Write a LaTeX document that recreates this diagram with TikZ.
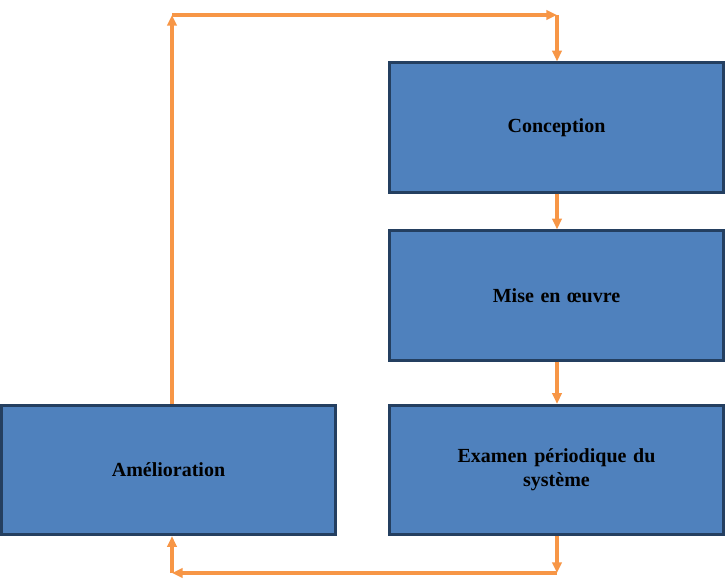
\documentclass[tikz,border=0pt]{standalone}
\usepackage{fontspec}
\setmainfont{Liberation Serif}
\usetikzlibrary{arrows.meta, positioning}
\definecolor{boxblue}{HTML}{4F81BD}
\definecolor{boxline}{HTML}{243F60}
\definecolor{flow}{HTML}{F79646}

\begin{document}
\begin{tikzpicture}[
    x=0.75pt, y=-0.75pt,
    stage/.style={rectangle, draw=boxline, line width=2.2pt, fill=boxblue, minimum width=250pt, minimum height=97pt, align=center, font=\bfseries\fontsize{15}{18}\selectfont, text width=200pt},
    arrow/.style={-{Triangle[length=8pt,width=7pt]}, flow, line width=2.3pt}
]
\useasboundingbox (0,0) rectangle (727,588);

% Steps of the cycle
\node[stage] (conc) at (556.5,127.5) {Conception};
\node[stage] (mise) at (556.5,295.5) {Mise en œuvre};
\node[stage] (exam) at (556.5,470) {Examen périodique du\\système};
\node[stage] (amel) at (168.5,470) {Amélioration};

% Corner points of the loop
\coordinate (tl) at (172,15);
\coordinate (tr) at (557,15);
\coordinate (br) at (557,573);
\coordinate (bl) at (172,573);

\draw[arrow] (amel.north -| tl) -- (tl);
\draw[arrow] (tl) -- (tr);
\draw[arrow] (tr) -- (conc.north -| tr);
\draw[arrow] (conc.south -| tr) -- (mise.north -| tr);
\draw[arrow] (mise.south -| tr) -- (exam.north -| tr);
\draw[arrow] (exam.south -| br) -- (br);
\draw[arrow] (br) -- (bl);
\draw[arrow] (bl) -- (amel.south -| bl);

\end{tikzpicture}
\end{document}
